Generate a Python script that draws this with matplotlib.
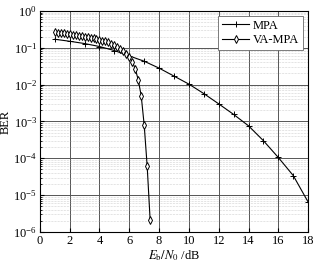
import matplotlib
matplotlib.use('Agg')
import matplotlib.pyplot as plt
import numpy as np

plt.rcParams['font.family'] = ['Liberation Serif', 'DejaVu Serif']
plt.rcParams['mathtext.fontset'] = 'stix'
plt.rcParams['font.size'] = 9

# MPA curve
mpa_x = [1, 2, 3, 4, 5, 6, 7, 8, 9, 10, 11, 12, 13, 14, 15, 16, 17, 18]
mpa_ber = [0.17, 0.15, 0.13, 0.108, 0.084, 0.06, 0.043, 0.028, 0.017, 0.0103,
           0.0057, 0.003, 0.00155, 7.6e-4, 3.0e-4, 1.05e-4, 3.4e-5, 6.5e-6]

# VA-MPA curve
va_x = [1.0, 1.2, 1.4, 1.6, 1.8, 2.0, 2.2, 2.4, 2.6, 2.8, 3.0, 3.2, 3.4, 3.6,
        3.8, 4.0, 4.2, 4.4, 4.6, 4.8, 5.0, 5.2, 5.4, 5.6, 5.8, 6.0, 6.2, 6.4,
        6.6, 6.8, 7.0, 7.2, 7.4]
va_ber = [0.26, 0.255, 0.25, 0.245, 0.238, 0.232, 0.226, 0.22, 0.214, 0.207,
          0.2, 0.194, 0.187, 0.18, 0.172, 0.165, 0.157, 0.149, 0.14, 0.128,
          0.116, 0.104, 0.092, 0.08, 0.068, 0.057, 0.042, 0.027, 0.0135,
          0.005, 8.0e-4, 6.2e-5, 2.1e-6]

fig = plt.figure(figsize=(3.24, 2.66), dpi=100)
ax = fig.add_axes([0.123, 0.128, 0.828, 0.831])

ax.semilogy(mpa_x, mpa_ber, color='black', lw=0.8, marker='+', ms=4.5,
            mew=0.7, label='MPA')
ax.semilogy(va_x, va_ber, color='black', lw=0.8, marker='d', ms=4,
            mew=0.7, mfc='white', label='VA-MPA')

ax.set_xlim(0, 18)
ax.set_ylim(1e-6, 1)
ax.set_xticks(np.arange(0, 19, 2))
ax.set_yticks([10.0 ** k for k in range(-6, 1)])
ax.grid(True, which='major', color='#555555', lw=0.7)
ax.grid(True, which='minor', color='#aaaaaa', lw=0.4, ls=':')
ax.tick_params(which='both', direction='in', labelsize=9, pad=2)
ax.tick_params(which='major', length=3)
ax.tick_params(which='minor', length=1.5)

ax.set_xlabel(r'$E_\mathrm{b}/N_0$ /dB', fontsize=9, labelpad=1)
ax.set_ylabel('BER', fontsize=9, labelpad=1)

leg = ax.legend(loc='upper right', fontsize=9, fancybox=False,
                edgecolor='#666666', framealpha=1, handlelength=2.2,
                borderpad=0.3, labelspacing=0.2, handletextpad=0.3,
                borderaxespad=0.4)
leg.get_frame().set_linewidth(0.6)

fig.savefig('out.png', dpi=100)
